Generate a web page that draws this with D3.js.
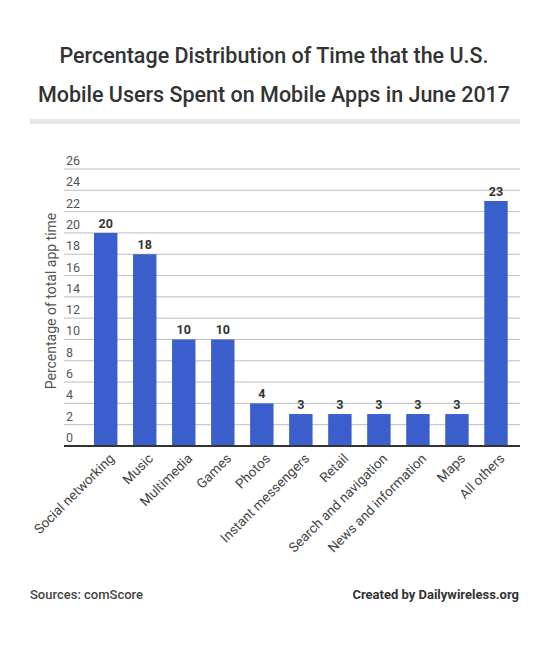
<!DOCTYPE html>
<html>
<head>
<meta charset="utf-8">
<script src="https://cdn.jsdelivr.net/npm/d3@7"></script>
<style>
  body { margin: 0; background: #fff; }
  svg { display: block; font-family: Roboto, sans-serif; }
</style>
</head>
<body>
<div id="chart"></div>
<script>
(function () {
  'use strict'

  // Data
  var categories = ['Social networking', 'Music', 'Multimedia', 'Games', 'Photos',
    'Instant messengers', 'Retail', 'Search and navigation', 'News and information',
    'Maps', 'All others']
  var values = [20, 18, 10, 10, 4, 3, 3, 3, 3, 3, 23]
  var yTicks = [0, 2, 4, 6, 8, 10, 12, 14, 16, 18, 20, 22, 24, 26]
  var titleLines = ['Percentage Distribution of Time that the U.S.',
    'Mobile Users Spent on Mobile Apps in June 2017']

  // Dimensions and stuff
  var w = 550
  var h = 664
  var gridLeft = 64
  var gridRight = 520
  var yTop = 169
  var yBottom = 446
  var barColor = '#3a5fcd'

  var s = d3.select('#chart').append('svg')
    .attr('width', w)
    .attr('height', h)

  // Title
  s.append('g').selectAll('text').data(titleLines).enter().append('text')
    .attr('x', w / 2 - 1)
    .attr('y', function (d, i) { return 63 + i * 39 })
    .attr('text-anchor', 'middle')
    .attr('font-size', 21.5)
    .attr('font-weight', 500)
    .attr('fill', '#333')
    .text(function (d) { return d })

  s.append('rect')
    .attr('x', 30).attr('y', 119)
    .attr('width', 490).attr('height', 5)
    .attr('fill', '#e6e6e6')

  // Scales
  var xScale = d3.scaleBand().domain(categories)
    .range([78.4, 523.3])
    .paddingInner(0.4)
    .paddingOuter(0.4)

  var yScale = d3.scaleLinear().domain([0, 26]).range([yBottom, yTop])

  // Grid + left labels
  var grid = s.append('g')
  grid.selectAll('line').data(yTicks.slice(1)).enter().append('line')
    .attr('x1', gridLeft).attr('x2', gridRight)
    .attr('y1', function (d) { return yScale(d) })
    .attr('y2', function (d) { return yScale(d) })
    .attr('stroke', '#bdbdbd')
    .attr('stroke-width', 1)

  grid.selectAll('text').data(yTicks).enter().append('text')
    .attr('x', 66)
    .attr('y', function (d) { return yScale(d) - 4 })
    .attr('font-size', 12.5)
    .attr('fill', '#555')
    .text(function (d) { return d })

  // Axis title
  s.append('text')
    .attr('transform', 'translate(56,301) rotate(-90)')
    .attr('text-anchor', 'middle')
    .attr('font-size', 14)
    .attr('fill', '#555')
    .text('Percentage of total app time')

  // Bars
  var bars = s.append('g')
  bars.selectAll('rect').data(values).enter().append('rect')
    .attr('x', function (d, i) { return xScale(categories[i]) })
    .attr('y', function (d) { return yScale(d) })
    .attr('width', xScale.bandwidth())
    .attr('height', function (d) { return yScale(0) - yScale(d) })
    .attr('fill', barColor)

  bars.selectAll('text').data(values).enter().append('text')
    .attr('x', function (d, i) { return xScale(categories[i]) + xScale.bandwidth() / 2 })
    .attr('y', function (d) { return yScale(d) - 5 })
    .attr('text-anchor', 'middle')
    .attr('font-size', 12.5)
    .attr('font-weight', 700)
    .attr('fill', '#333')
    .text(function (d) { return d })

  // Baseline
  s.append('line')
    .attr('x1', gridLeft).attr('x2', gridRight)
    .attr('y1', yBottom).attr('y2', yBottom)
    .attr('stroke', '#333')
    .attr('stroke-width', 2)

  // Category labels
  s.append('g').selectAll('text').data(categories).enter().append('text')
    .attr('transform', function (d) {
      var cx = xScale(d) + xScale.bandwidth() / 2 + 6
      return 'translate(' + cx + ',' + (yBottom + 10) + ') rotate(-45)'
    })
    .attr('text-anchor', 'end')
    .attr('dy', '0.35em')
    .attr('font-size', 13.5)
    .attr('fill', '#444')
    .text(function (d) { return d })

  // Footer
  s.append('text')
    .attr('x', 30).attr('y', 599)
    .attr('font-size', 13)
    .attr('font-weight', 500)
    .attr('fill', '#444')
    .text('Sources: comScore')

  s.append('text')
    .attr('x', 519).attr('y', 599)
    .attr('text-anchor', 'end')
    .attr('font-size', 13)
    .attr('font-weight', 700)
    .attr('fill', '#333')
    .text('Created by Dailywireless.org')
}())
</script>
</body>
</html>
